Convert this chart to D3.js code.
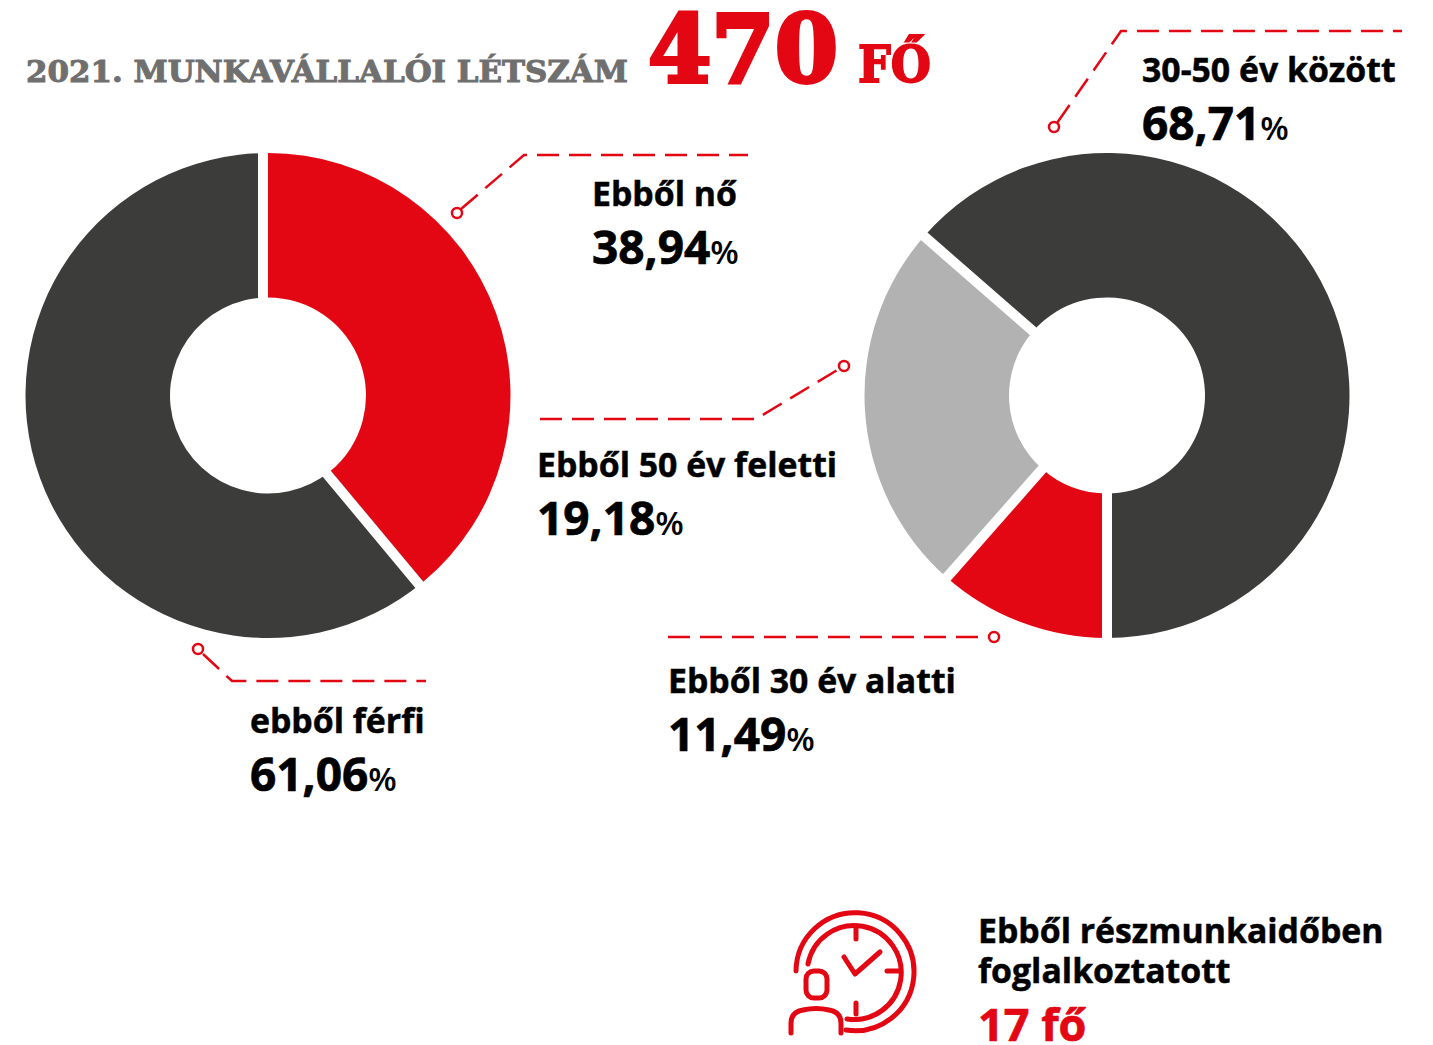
<!DOCTYPE html>
<html><head><meta charset="utf-8">
<script src="https://cdn.jsdelivr.net/npm/d3@7"></script>
<style>html,body{margin:0;background:#fff}svg{display:block}text{font-family:"Open Sans",sans-serif}</style>
</head><body><svg id="c" width="1433" height="1045"></svg>
<script>
const genderLabels=["nő","férfi"];
const genderValues=[38.94,61.06];
const ageLabels=["30-50","30 alatt","50 felett"];
const ageValues=[63.6,11.49,24.91];
const red="#e30613",dark="#3c3c3b",grey="#b2b2b2",ink="#000";
const svg=d3.select("#c");
const R=242.5,r0=98;
function donut(cx,cy,values,colors,start,offs){
  const pie=d3.pie().sort(null).startAngle(start).endAngle(start+2*Math.PI)(values);
  const arc=d3.arc().innerRadius(r0).outerRadius(R);
  const g=svg.append("g").attr("transform",`translate(${cx},${cy})`);
  g.selectAll("path.s").data(pie).join("path").attr("class","s").attr("d",arc).attr("fill",(d,i)=>colors[i]);
  g.selectAll("line").data(pie).join("line")
   .attr("transform",(d,i)=>`rotate(${d.startAngle*180/Math.PI}) translate(${offs[i]},0)`)
   .attr("x1",0).attr("y1",-90).attr("x2",0).attr("y2",-250)
   .attr("stroke","#fff").attr("stroke-width",10);
}
const pct=d3.scaleLinear().domain([0,100]).range([0,2*Math.PI]);
donut(268,395.5,genderValues,[red,dark],0,[-5,5]);
donut(1107,395.5,ageValues,[dark,red,grey],pct(50-ageValues[0]),[0,0,0]);
function leader(pts,end){
  svg.append("path").attr("d",d3.line()(pts)).attr("fill","none").attr("stroke",red).attr("stroke-width",2.5).attr("stroke-dasharray","22 10");
  svg.append("circle").attr("cx",end[0]).attr("cy",end[1]).attr("r",5).attr("fill","#fff").attr("stroke",red).attr("stroke-width",2.5);
}
leader([[461,209],[524,155],[748,155]],[457,213]);
leader([[203,654],[232,681],[426,681]],[198,649]);
leader([[1057,123],[1121,31],[1402,31]],[1054,127]);
leader([[540,419],[756,419],[839,369]],[844,366]);
leader([[668,637],[989,637]],[994,637]);
function label(x,y,t,v){
  svg.append("text").attr("x",x).attr("y",y).attr("font-size",33.8).attr("font-weight",700).attr("fill",ink).attr("stroke",ink).attr("stroke-width",0.5).text(t);
  const n=svg.append("text").attr("x",x).attr("y",y+58).attr("font-size",46).attr("font-weight",700).attr("fill",ink).attr("stroke",ink).attr("stroke-width",0.7).text(v);
  n.append("tspan").attr("font-size",33).attr("font-weight",600).attr("stroke-width",0).text("%");
}
label(592,206,"Ebből nő","38,94");
label(537,477,"Ebből 50 év feletti","19,18");
label(250,733,"ebből férfi","61,06");
label(668,693,"Ebből 30 év alatti","11,49");
label(1142,82,"30-50 év között","68,71");
const serif='"DejaVu Serif",serif';
function heavy(x,w,size,sw,fill,t){
  svg.append("text").attr("x",x).attr("y",82).attr("font-size",size).attr("font-weight",700).attr("fill",fill)
   .attr("stroke",fill).attr("stroke-width",sw).attr("textLength",w).attr("lengthAdjust","spacingAndGlyphs").style("font-family",serif).text(t);
}
heavy(26,602,30,1,"#706f6f","2021. MUNKAVÁLLALÓI LÉTSZÁM");
heavy(648,190,94,4,red,"470");
heavy(858,73,50,1.8,red,"FŐ");
svg.append("text").attr("x",978).attr("y",943).attr("font-size",33.8).attr("font-weight",700).attr("fill",ink).attr("stroke",ink).attr("stroke-width",0.5).text("Ebből részmunkaidőben");
svg.append("text").attr("x",978).attr("y",983).attr("font-size",33.8).attr("font-weight",700).attr("fill",ink).attr("stroke",ink).attr("stroke-width",0.5).text("foglalkoztatott");
svg.append("text").attr("x",978).attr("y",1041).attr("font-size",45).attr("font-weight",700).attr("fill",red).attr("stroke",red).attr("stroke-width",0.7).text("17 fő");
const ic=svg.append("g").attr("fill","none").attr("stroke",red).attr("stroke-width",5).attr("stroke-linecap","round").attr("stroke-linejoin","round");
ic.append("path").attr("d","M796 971A59 59 0 1 1 846 1030");
ic.append("path").attr("d","M808 964A47 47 0 1 1 847 1019");
ic.append("path").attr("d","M856 928V939M899 971H887M856 1003V1014M844 957L855 974L880 952");
ic.append("path").attr("d","M806 979a8 8 0 0 1 8-8h5a8 8 0 0 1 8 8v11a8 8 0 0 1 -8 8h-5a8 8 0 0 1 -8-8zM791 1033v-10q0-11 12-13q13-3 26 0q12 2 12 13v10");
</script></body></html>
